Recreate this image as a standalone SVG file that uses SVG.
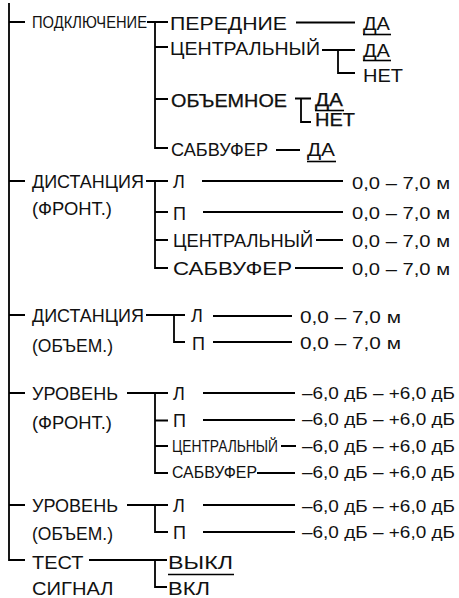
<svg xmlns="http://www.w3.org/2000/svg" width="459" height="598" viewBox="0 0 459 598">
<style>
text{font-family:"Liberation Sans",Arial,sans-serif;font-size:18px;fill:#111}
.c{font-size:16px}
.b{stroke:#000;stroke-width:0.25}
.v{font-size:17px}
path,line{stroke:#000;stroke-width:1.8;fill:none}
.u{stroke-width:1.6}
</style>
<rect width="459" height="598" fill="#fff"/>
<g id="connectors">
<path d="M9,3V560H25M9,22H25M9,181H25M9,315H25M9,393H25M9,505H25"/>
<path d="M147,22H168M155,22V148H168M155,47H168M155,99H168"/>
<path d="M296,22.5H355M322,50H355M338,50V73H355M295,98.5H311M301,98.5V122H311M276,150H300"/>
<path d="M146,181H168M155,181V268H168M155,212H168M155,240H168"/>
<path d="M202,181H343M203,212H343M316,240H343M295,268H343"/>
<path d="M146,315H185M174,315V342H185M213,316H292M213,342H292"/>
<path d="M127,393H168M155,393V473H168M155,420.5H168M155,446H168"/>
<path d="M203,393H295M203,420H295M281,446H296M257,473H295"/>
<path d="M127,505H168M155,505V532H168M203,505H295M203,532H295"/>
<path d="M89,560H167M155,560V587H167"/>
</g>
<g id="n-podkl"><text class="c" x="32" y="28.3" textLength="115" lengthAdjust="spacingAndGlyphs">ПОДКЛЮЧЕНИЕ</text></g>
<g id="n-perednie"><text x="170" y="29.5" font-size="19" textLength="117" lengthAdjust="spacingAndGlyphs">ПЕРЕДНИЕ</text></g>
<g id="n-perednie-da"><text x="363" y="30" textLength="27" lengthAdjust="spacingAndGlyphs">ДА</text><line class="u" x1="363" y1="34.5" x2="391" y2="34.5"/></g>
<g id="n-centr"><text x="170" y="54.5" font-size="19" textLength="150" lengthAdjust="spacingAndGlyphs">ЦЕНТРАЛЬНЫЙ</text></g>
<g id="n-centr-da"><text x="363" y="56.5" textLength="27" lengthAdjust="spacingAndGlyphs">ДА</text><line class="u" x1="363" y1="60.5" x2="391" y2="60.5"/></g>
<g id="n-centr-net"><text x="363" y="81.5" textLength="40" lengthAdjust="spacingAndGlyphs">НЕТ</text></g>
<g id="n-obem"><text class="b" x="171" y="106.5" textLength="116" lengthAdjust="spacingAndGlyphs">ОБЪЕМНОЕ</text></g>
<g id="n-obem-da"><text class="b" x="315" y="105.5" textLength="28" lengthAdjust="spacingAndGlyphs">ДА</text><line class="u" x1="315" y1="110.5" x2="344" y2="110.5"/></g>
<g id="n-obem-net"><text class="b" x="315" y="125.5" textLength="40" lengthAdjust="spacingAndGlyphs">НЕТ</text></g>
<g id="n-sabv"><text x="171" y="156" textLength="97" lengthAdjust="spacingAndGlyphs">САБВУФЕР</text></g>
<g id="n-sabv-da"><text x="307" y="156" textLength="28" lengthAdjust="spacingAndGlyphs">ДА</text><line class="u" x1="307" y1="161.5" x2="336" y2="161.5"/></g>

<g id="n-dist-front"><text x="32" y="188" textLength="112" lengthAdjust="spacingAndGlyphs">ДИСТАНЦИЯ</text><text x="32" y="214.5" textLength="80" lengthAdjust="spacingAndGlyphs">(ФРОНТ.)</text></g>
<g id="n-df-l"><text x="173" y="188">Л</text></g>
<g id="n-df-p"><text x="173" y="219.5">П</text></g>
<g id="n-df-c"><text x="173" y="247" textLength="140" lengthAdjust="spacingAndGlyphs">ЦЕНТРАЛЬНЫЙ</text></g>
<g id="n-df-s"><text x="173" y="275" textLength="119" lengthAdjust="spacingAndGlyphs">САБВУФЕР</text></g>
<g id="n-df-vals">
<text class="v" x="352" y="189" textLength="98" lengthAdjust="spacingAndGlyphs">0,0 – 7,0 м</text>
<text class="v" x="352" y="218.5" textLength="98" lengthAdjust="spacingAndGlyphs">0,0 – 7,0 м</text>
<text class="v" x="352" y="247" textLength="98" lengthAdjust="spacingAndGlyphs">0,0 – 7,0 м</text>
<text class="v" x="352" y="275" textLength="98" lengthAdjust="spacingAndGlyphs">0,0 – 7,0 м</text>
</g>

<g id="n-dist-obem"><text x="32" y="322" textLength="112" lengthAdjust="spacingAndGlyphs">ДИСТАНЦИЯ</text><text x="32" y="351.5" textLength="81" lengthAdjust="spacingAndGlyphs">(ОБЪЕМ.)</text></g>
<g id="n-do-l"><text x="191" y="322">Л</text></g>
<g id="n-do-p"><text x="192" y="349.5">П</text></g>
<g id="n-do-vals">
<text class="v" x="300" y="323" textLength="101" lengthAdjust="spacingAndGlyphs">0,0 – 7,0 м</text>
<text class="v" x="300" y="348.5" textLength="101" lengthAdjust="spacingAndGlyphs">0,0 – 7,0 м</text>
</g>

<g id="n-lev-front"><text x="32" y="400" textLength="86" lengthAdjust="spacingAndGlyphs">УРОВЕНЬ</text><text x="32" y="429" textLength="80" lengthAdjust="spacingAndGlyphs">(ФРОНТ.)</text></g>
<g id="n-lf-l"><text x="173" y="400">Л</text></g>
<g id="n-lf-p"><text x="173" y="427">П</text></g>
<g id="n-lf-c"><text class="c" x="172" y="451.7" textLength="106" lengthAdjust="spacingAndGlyphs">ЦЕНТРАЛЬНЫЙ</text></g>
<g id="n-lf-s"><text class="c" x="172" y="477.5" textLength="85" lengthAdjust="spacingAndGlyphs">САБВУФЕР</text></g>
<g id="n-lf-vals">
<text class="v" x="302" y="398.5" textLength="153" lengthAdjust="spacingAndGlyphs">–6,0 дБ – +6,0 дБ</text>
<text class="v" x="302" y="425" textLength="153" lengthAdjust="spacingAndGlyphs">–6,0 дБ – +6,0 дБ</text>
<text class="v" x="302" y="451.7" textLength="153" lengthAdjust="spacingAndGlyphs">–6,0 дБ – +6,0 дБ</text>
<text class="v" x="302" y="478.3" textLength="153" lengthAdjust="spacingAndGlyphs">–6,0 дБ – +6,0 дБ</text>
</g>

<g id="n-lev-obem"><text x="32" y="511.7" textLength="86" lengthAdjust="spacingAndGlyphs">УРОВЕНЬ</text><text x="32" y="540" textLength="81" lengthAdjust="spacingAndGlyphs">(ОБЪЕМ.)</text></g>
<g id="n-lo-l"><text x="173" y="511.7">Л</text></g>
<g id="n-lo-p"><text x="173" y="538.5">П</text></g>
<g id="n-lo-vals">
<text class="v" x="302" y="511.7" textLength="153" lengthAdjust="spacingAndGlyphs">–6,0 дБ – +6,0 дБ</text>
<text class="v" x="302" y="538.3" textLength="153" lengthAdjust="spacingAndGlyphs">–6,0 дБ – +6,0 дБ</text>
</g>

<g id="n-test"><text x="32" y="569" textLength="51.5" lengthAdjust="spacingAndGlyphs">ТЕСТ</text><text x="32" y="594.5" textLength="81.5" lengthAdjust="spacingAndGlyphs">СИГНАЛ</text></g>
<g id="n-test-off"><text x="168" y="569" textLength="65" lengthAdjust="spacingAndGlyphs">ВЫКЛ</text><line class="u" x1="168" y1="574.5" x2="234" y2="574.5"/></g>
<g id="n-test-on"><text x="168" y="594.5" textLength="42" lengthAdjust="spacingAndGlyphs">ВКЛ</text></g>
</svg>
